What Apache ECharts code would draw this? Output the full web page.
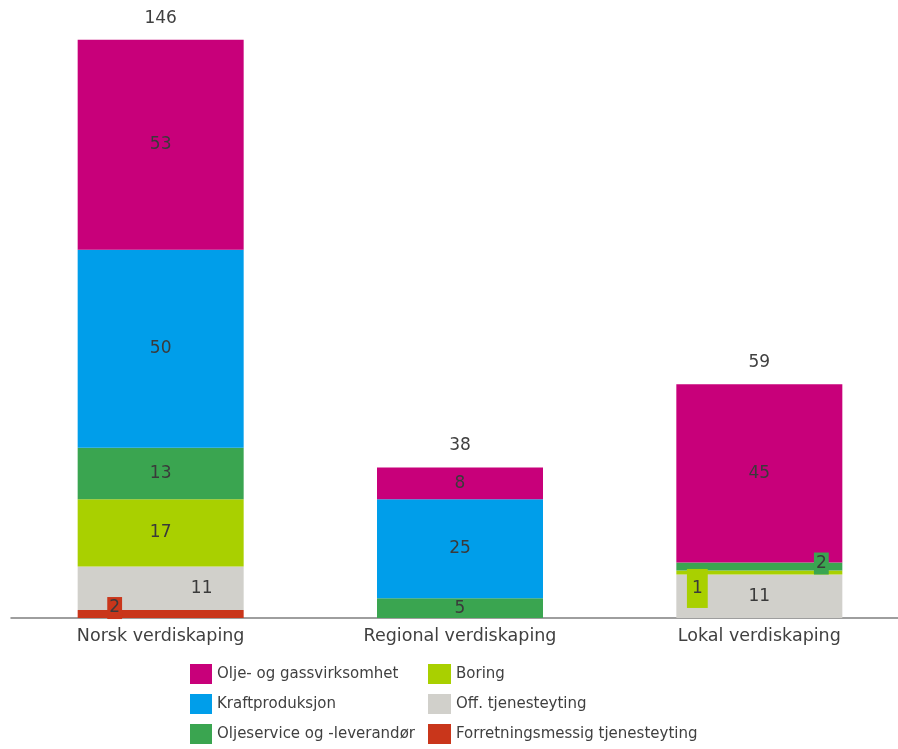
<!DOCTYPE html>
<html><head><meta charset="utf-8">
<script src="https://cdn.jsdelivr.net/npm/echarts@6/dist/echarts.min.js"></script>
<style>html,body{margin:0;padding:0;background:#fff}#c{width:898px;height:749px}</style>
</head><body><div id="c"></div>
<script>
const categories = ['Norsk verdiskaping', 'Regional verdiskaping', 'Lokal verdiskaping'];
const seriesNames = ['Forretningsmessig tjenesteyting', 'Off. tjenesteyting', 'Boring', 'Oljeservice og -leverandør', 'Kraftproduksjon', 'Olje- og gassvirksomhet'];
const forretnings = [2, 0, 0];
const offTjeneste = [11, 0, 11];
const boring = [17, 0, 1];
const oljeservice = [13, 5, 2];
const kraft = [50, 25, 0];
const oljeGass = [53, 8, 45];
const totals = [146, 38, 59];

const colors = ['#C9361B', '#D1D0CB', '#A9D000', '#3AA550', '#009EEA', '#C8007A'];
const values = [forretnings, offTjeneste, boring, oljeservice, kraft, oljeGass];
const labelTweaks = {
  '0-0': {offset: [-46, -6], backgroundColor: '#C9361B', padding: [4, 2, 1, 2]},
  '1-0': {offset: [41, 0]},
  '2-2': {offset: [-62, 16], backgroundColor: '#A9D000', padding: [13, 5, 9, 5]},
  '3-2': {offset: [62, -3], backgroundColor: '#3AA550', padding: [3, 2, 2, 2]}
};
const font = '"DejaVu Sans", Verdana, sans-serif';
const fs = 17;
const series = values.map((arr, si) => ({
  name: seriesNames[si],
  type: 'bar',
  stack: 'total',
  barWidth: 166,
  itemStyle: {color: colors[si]},
  label: {show: true, position: 'inside', color: '#3a3a3a', fontSize: fs, fontFamily: font,
    formatter: p => p.value === 0 ? '' : String(p.value)},
  data: arr.map((v, ci) => {
    const t = labelTweaks[si + '-' + ci];
    return t ? {value: v, label: t} : v;
  })
}));
series.push({
  name: 'Sum', type: 'bar', barGap: '-100%', barWidth: 166, z: 0, silent: true,
  itemStyle: {color: 'rgba(0,0,0,0)'},
  label: {show: true, position: 'top', distance: 13, color: '#404040', fontSize: fs, fontFamily: font},
  data: totals
});
const chart = echarts.init(document.getElementById('c'));
chart.setOption({
  animation: false,
  textStyle: {fontFamily: font},
  grid: {left: 11, right: -11, top: 24, height: 594, outerBoundsMode: 'none', containLabel: false},
  xAxis: {type: 'category', data: categories,
    axisLine: {lineStyle: {color: '#7f7f7f', width: 1.5}}, axisTick: {show: false},
    axisLabel: {color: '#404040', fontSize: 17.5, fontFamily: font, margin: 9}},
  yAxis: {type: 'value', min: 0, max: 150, show: false, splitLine: {show: false}},
  legend: [
    {data: [seriesNames[5], seriesNames[4], seriesNames[3]], orient: 'vertical', left: 190, top: 664, height: 86, padding: 0,
     itemWidth: 22, itemHeight: 20, itemGap: 10, textStyle: {color: '#404040', fontSize: 15, fontFamily: font}, icon: 'rect'},
    {data: [seriesNames[2], seriesNames[1], seriesNames[0]], orient: 'vertical', left: 428, top: 664, height: 86, padding: 0,
     itemWidth: 23, itemHeight: 20, itemGap: 10, textStyle: {color: '#404040', fontSize: 15, fontFamily: font}, icon: 'rect'}
  ],
  series: series
});
</script></body></html>
